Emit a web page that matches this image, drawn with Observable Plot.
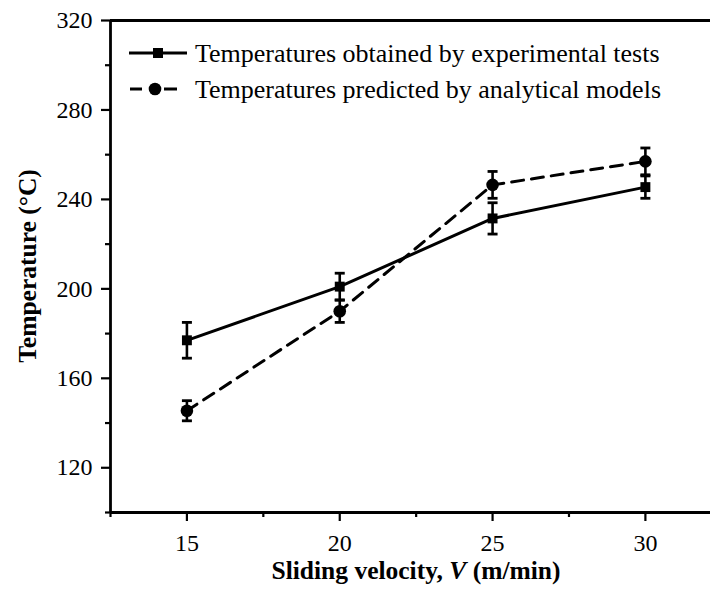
<!DOCTYPE html>
<html>
<head>
<meta charset="utf-8">
<script src="https://cdn.jsdelivr.net/npm/d3@7"></script>
<script src="https://cdn.jsdelivr.net/npm/@observablehq/plot@0.6"></script>
<style>
  html, body { margin: 0; padding: 0; background: #fff; overflow: hidden; }
  #chart { position: relative; width: 710px; height: 591px; }
</style>
</head>
<body>
<div id="chart"></div>
<script>
// ---- data ----
const velocities = [15, 20, 25, 30];
const expTemps = [177, 201, 231.5, 245.5];
const expErrors = [8, 6, 7, 5];
const predTemps = [145.5, 190, 246.5, 257];
const predErrors = [4.5, 5, 6, 6];
const yTickValues = [120, 160, 200, 240, 280, 320];
const yMinorTicks = [100, 140, 180, 220, 260, 300];
const xTickValues = [15, 20, 25, 30];
const xMinorTicks = [12.5, 17.5, 22.5, 27.5];
const seriesNames = ["Temperatures obtained by experimental tests", "Temperatures predicted by analytical models"];

const expData = velocities.map((v, i) => ({x: v, y: expTemps[i], lo: expTemps[i] - expErrors[i], hi: expTemps[i] + expErrors[i]}));
const predData = velocities.map((v, i) => ({x: v, y: predTemps[i], lo: predTemps[i] - predErrors[i], hi: predTemps[i] + predErrors[i]}));

// horizontal cap symbol for error bars
const capSymbol = {
  draw(ctx, size) {
    const w = Math.sqrt(size / Math.PI);
    ctx.moveTo(-w, 0);
    ctx.lineTo(w, 0);
  }
};

const FONT = "Liberation Serif, Times New Roman, DejaVu Serif, serif";

function errorMarks(data) {
  return [
    Plot.ruleX(data, {x: "x", y1: "lo", y2: "hi", stroke: "black", strokeWidth: 2.6}),
    Plot.dot(data, {x: "x", y: "lo", symbol: capSymbol, r: 5, stroke: "black", strokeWidth: 2.8}),
    Plot.dot(data, {x: "x", y: "hi", symbol: capSymbol, r: 5, stroke: "black", strokeWidth: 2.8})
  ];
}

const plot = Plot.plot({
  width: 710,
  height: 591,
  marginLeft: 110,
  marginRight: 0,
  marginTop: 20,
  marginBottom: 79,
  style: {fontFamily: FONT, fontSize: "24px", color: "black", background: "white"},
  x: {domain: [12.5, 32.13]},
  y: {domain: [100, 320]},
  marks: [
    Plot.axisY({ticks: yTickValues, tickSize: 9, tickPadding: 9, label: null, strokeWidth: 2.2, fill: "black"}),
    Plot.axisY({ticks: yMinorTicks, tickSize: 5, text: null, label: null, strokeWidth: 2.2}),
    Plot.axisX({ticks: xTickValues, tickSize: 9, tickPadding: 12, label: null, strokeWidth: 2.2, fill: "black"}),
    Plot.axisX({ticks: xMinorTicks, tickSize: 5, text: null, label: null, strokeWidth: 2.2}),
    Plot.ruleX([12.5], {stroke: "black", strokeWidth: 2.8}),
    Plot.ruleY([100], {stroke: "black", strokeWidth: 2.8}),
    Plot.ruleY([320], {stroke: "black", strokeWidth: 2.8}),
    Plot.line(expData, {x: "x", y: "y", stroke: "black", strokeWidth: 3}),
    Plot.line(predData, {x: "x", y: "y", stroke: "black", strokeWidth: 3, strokeDasharray: "12,8"}),
    ...errorMarks(expData),
    ...errorMarks(predData),
    Plot.dot(expData, {x: "x", y: "y", symbol: "square", r: 5.6, fill: "black"}),
    Plot.dot(predData, {x: "x", y: "y", symbol: "circle", r: 6.3, fill: "black"})
  ]
});

document.getElementById("chart").appendChild(plot);

// ---- titles and legend ----
const svg = d3.select(plot);

svg.append("text")
  .attr("transform", "translate(27,266) rotate(-90)")
  .attr("text-anchor", "middle")
  .attr("dominant-baseline", "central")
  .style("font-family", FONT)
  .attr("font-weight", "bold")
  .attr("font-size", 25.5)
  .attr("fill", "black")
  .text("Temperature (°C)");

const xt = svg.append("text")
  .attr("x", 416)
  .attr("y", 579)
  .attr("text-anchor", "middle")
  .style("font-family", FONT)
  .attr("font-weight", "bold")
  .attr("font-size", 25.5)
  .attr("fill", "black");
xt.append("tspan").text("Sliding velocity, ");
xt.append("tspan").attr("font-style", "italic").text("V");
xt.append("tspan").text(" (m/min)");

const leg = svg.append("g");
// row 1: solid with square
leg.append("line").attr("x1", 129).attr("x2", 187).attr("y1", 53).attr("y2", 53)
  .attr("stroke", "black").attr("stroke-width", 3);
leg.append("rect").attr("x", 153).attr("y", 48).attr("width", 10).attr("height", 10).attr("fill", "black");
leg.append("text").attr("x", 195).attr("y", 53).attr("dominant-baseline", "central")
  .attr("text-anchor", "start")
  .style("font-family", FONT).attr("font-size", 26).attr("fill", "black").text(seriesNames[0]);
// row 2: dashed with circle
leg.append("line").attr("x1", 130).attr("x2", 142).attr("y1", 89).attr("y2", 89)
  .attr("stroke", "black").attr("stroke-width", 3);
leg.append("line").attr("x1", 164).attr("x2", 177).attr("y1", 89).attr("y2", 89)
  .attr("stroke", "black").attr("stroke-width", 3);
leg.append("circle").attr("cx", 155).attr("cy", 89).attr("r", 6.3).attr("fill", "black");
leg.append("text").attr("x", 195).attr("y", 89).attr("dominant-baseline", "central")
  .attr("text-anchor", "start")
  .style("font-family", FONT).attr("font-size", 26).attr("fill", "black").text(seriesNames[1]);
</script>
</body>
</html>
